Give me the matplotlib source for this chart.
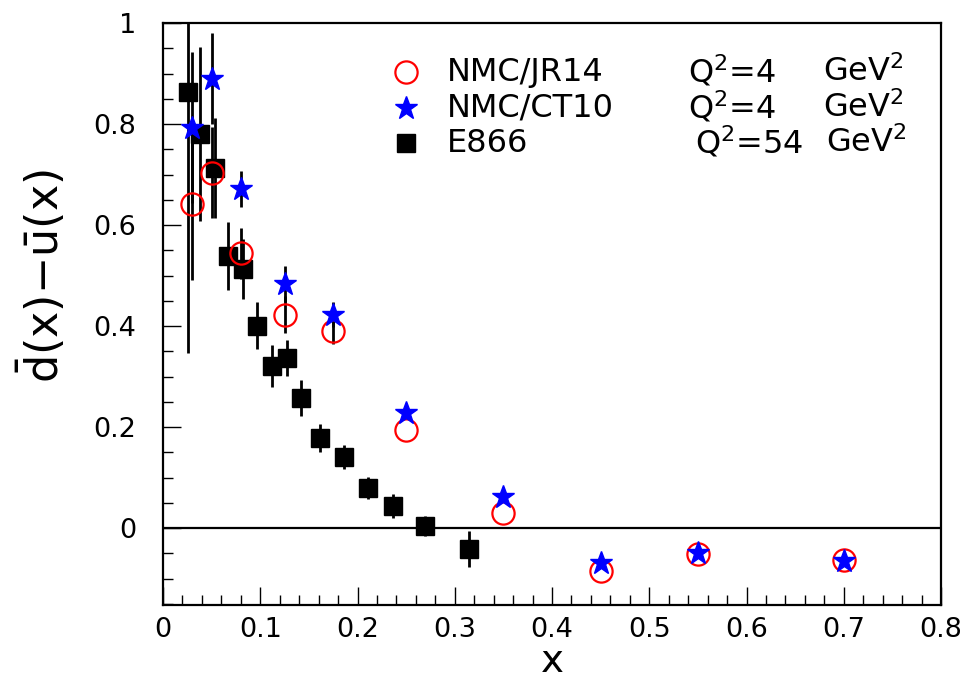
import numpy as np
import matplotlib
matplotlib.use("Agg")
import matplotlib.pyplot as plt

plt.rcParams['font.family'] = ['DejaVu Sans']
plt.rcParams['mathtext.fontset'] = 'dejavusans'

# NMC points (two PDF sets), same x grid
x_nmc = [0.03, 0.05, 0.08, 0.125, 0.175, 0.25, 0.35, 0.45, 0.55, 0.70]
y_jr14 = [0.642, 0.704, 0.544, 0.423, 0.390, 0.194, 0.030, -0.085, -0.052, -0.063]
e_jr14 = [0.15, 0.09, 0.05, 0.036, 0.025, 0.0, 0.0, 0.0, 0.0, 0.0]
y_ct10 = [0.793, 0.890, 0.671, 0.483, 0.423, 0.228, 0.062, -0.068, -0.050, -0.064]
e_ct10 = [0.15, 0.09, 0.036, 0.036, 0.024, 0.0, 0.0, 0.0, 0.0, 0.0]

# E866 points
x_e866 = [0.026, 0.038, 0.053, 0.067, 0.082, 0.097, 0.112, 0.127, 0.142,
          0.161, 0.186, 0.211, 0.236, 0.269, 0.315]
y_e866 = [0.864, 0.781, 0.713, 0.539, 0.513, 0.401, 0.321, 0.337, 0.258,
          0.179, 0.141, 0.080, 0.044, 0.005, -0.041]
e_e866 = [0.517, 0.172, 0.098, 0.068, 0.060, 0.046, 0.041, 0.036, 0.036,
          0.028, 0.023, 0.022, 0.023, 0.020, 0.036]

W, H = 968, 683
def px(x, y):
    return x / W, 1 - y / H

fig = plt.figure(figsize=(W / 100, H / 100), dpi=100)
ax = fig.add_axes([163 / W, 1 - 605 / H, (941 - 163) / W, (605 - 23) / H])

ax.axhline(0, color='black', lw=1.6, zorder=1)

ebkw = dict(fmt='none', ecolor='black', elinewidth=2.0, capsize=0, zorder=2)
ax.errorbar(x_nmc, y_jr14, yerr=e_jr14, **ebkw)
ax.errorbar(x_nmc, y_ct10, yerr=e_ct10, **ebkw)
ax.errorbar(x_e866, y_e866, yerr=e_e866, **ebkw)

ax.plot(x_e866, y_e866, 's', color='black', ms=13.5, mec='black', zorder=3)
ax.plot(x_nmc, y_jr14, 'o', mfc='none', mec='red', mew=1.6, ms=16, zorder=4)
ax.plot(x_nmc, y_ct10, '*', color='blue', ms=17, mec='blue', zorder=5)

ax.set_xlim(0, 0.8)
ax.set_ylim(-0.152, 1.0)
ax.set_xticks(np.arange(0, 0.81, 0.1))
ax.set_xticks(np.arange(0, 0.801, 0.02), minor=True)
ax.set_yticks([0, 0.2, 0.4, 0.6, 0.8, 1.0])
ax.set_yticks(np.arange(-0.15, 1.001, 0.05), minor=True)
ax.set_xticklabels(['0', '0.1', '0.2', '0.3', '0.4', '0.5', '0.6', '0.7', '0.8'])
ax.set_yticklabels(['0', '0.2', '0.4', '0.6', '0.8', '1'])
ax.tick_params(which='both', direction='in', labelsize=19.5, width=1.0,
               top=False, right=False)
ax.tick_params(which='major', length=13)
ax.tick_params(which='minor', length=7)
ax.tick_params(axis='x', which='major', pad=8.5)
ax.tick_params(axis='y', which='major', pad=19)
for s in ax.spines.values():
    s.set_linewidth(1.6)

fig.text(*px(552, 661), 'x', fontsize=28, ha='center', va='center')
fig.text(*px(42, 276), r'$\mathrm{\bar{d}(x){-}\bar{u}(x)}$', fontsize=32,
         rotation=90, ha='center', va='center')

# legend drawn by hand
rows = [72, 108, 143]
fig.add_artist(plt.Line2D([406 / W], [1 - rows[0] / H], marker='o', mfc='none',
                          mec='red', mew=1.6, ms=16, transform=fig.transFigure))
fig.add_artist(plt.Line2D([406 / W], [1 - rows[1] / H], marker='*', color='blue',
                          ms=17, transform=fig.transFigure))
fig.add_artist(plt.Line2D([406 / W], [1 - rows[2] / H], marker='s', color='black',
                          ms=13.5, transform=fig.transFigure))
names = ['NMC/JR14', 'NMC/CT10', 'E866']
q2 = [r'Q$^2$=4', r'Q$^2$=4', r'Q$^2$=54']
q2_x = [688, 688, 695]
gev_x = [823, 823, 826]
for i, y in enumerate(rows):
    fig.text(*px(447, y), names[i], fontsize=23, ha='left', va='center')
    fig.text(*px(q2_x[i], y), q2[i], fontsize=23, ha='left', va='center')
    fig.text(*px(gev_x[i], y), r'GeV$^2$', fontsize=23, ha='left', va='center')

fig.savefig('out.png', dpi=100)
